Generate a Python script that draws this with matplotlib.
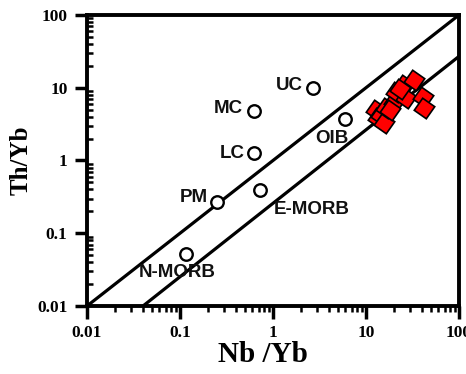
import matplotlib
matplotlib.use("Agg")
import matplotlib.pyplot as plt
from matplotlib.ticker import LogLocator, NullFormatter, FixedLocator, FixedFormatter
import numpy as np

# Reference compositions
ref_labels = ["UC", "MC", "LC", "PM", "E-MORB", "OIB", "N-MORB"]
ref_nb_yb = [2.7, 0.63, 0.62, 0.25, 0.72, 5.9, 0.117]
ref_th_yb = [9.9, 4.8, 1.27, 0.27, 0.39, 3.7, 0.052]

# Samples
sample_nb_yb = [12.7, 13.4, 14.4, 15.5, 16.3, 19.9, 20.9, 25.5, 26.8, 32.7, 40.9, 41.9, 23.0, 18.0]
sample_th_yb = [4.95, 3.84, 4.22, 3.28, 5.27, 6.37, 8.74, 10.9, 7.23, 12.8, 7.46, 5.27, 9.5, 5.0]

# Mantle array boundaries
upper_x = [0.01, 100]
upper_y = [0.01, 100]
lower_x = [0.04, 100]
lower_y = [0.01, 27]

tick_vals = [0.01, 0.1, 1, 10, 100]
tick_labels = ["0.01", "0.1", "1", "10", "100"]

fig = plt.figure(figsize=(4.66, 3.74), dpi=100)
ax = fig.add_axes([0.1867, 0.1818, 0.985 - 0.1867, 0.96 - 0.1818])
ax.set_xscale("log")
ax.set_yscale("log")
ax.set_xlim(0.01, 100)
ax.set_ylim(0.01, 100)

ax.plot(upper_x, upper_y, color="black", lw=2.3, solid_capstyle="butt", zorder=2)
ax.plot(lower_x, lower_y, color="black", lw=2.3, solid_capstyle="butt", zorder=2)

ax.plot(ref_nb_yb, ref_th_yb, ls="none", marker="o", ms=9, mfc="white",
        mec="black", mew=1.7, zorder=3)

ax.plot(sample_nb_yb, sample_th_yb, ls="none", marker=(4, 0, 10), ms=15,
        mfc="#ff0000", mec="black", mew=1.2, zorder=4)

offsets = {
    "UC": (-10, 3, "right"),
    "MC": (-11, 2, "right"),
    "LC": (-9, -1, "right"),
    "PM": (-9, 4, "right"),
    "E-MORB": (14, -19, "left"),
    "OIB": (-13, -19, "center"),
    "N-MORB": (-48, -19, "left"),
}
for lab, x, y in zip(ref_labels, ref_nb_yb, ref_th_yb):
    dx, dy, ha = offsets[lab]
    ax.annotate(lab, xy=(x, y), xytext=(dx * 0.72, dy * 0.72),
                textcoords="offset points", ha=ha, va="center",
                fontsize=13.5, fontweight="bold", family="Liberation Sans",
                color="#111111", zorder=5)

for side in ["left", "bottom", "right", "top"]:
    ax.spines[side].set_linewidth(2.8)

ax.xaxis.set_major_locator(FixedLocator(tick_vals))
ax.xaxis.set_major_formatter(FixedFormatter(tick_labels))
ax.yaxis.set_major_locator(FixedLocator(tick_vals))
ax.yaxis.set_major_formatter(FixedFormatter(tick_labels))
ax.xaxis.set_minor_locator(LogLocator(base=10, subs=np.arange(2, 10)))
ax.yaxis.set_minor_locator(LogLocator(base=10, subs=np.arange(2, 10)))
ax.xaxis.set_minor_formatter(NullFormatter())
ax.yaxis.set_minor_formatter(NullFormatter())

ax.tick_params(axis="both", which="major", direction="out", length=9, width=2.5,
               labelsize=12.5, pad=5)
ax.tick_params(axis="x", which="minor", direction="out", length=4, width=1.8)
ax.tick_params(axis="y", which="minor", direction="in", length=4, width=1.8)
ax.tick_params(top=False, right=False, which="both")

for lbl in ax.get_xticklabels() + ax.get_yticklabels():
    lbl.set_family("Liberation Serif")
    lbl.set_fontweight("bold")

ax.set_xlabel("Nb /Yb", family="Liberation Serif", fontweight="bold", fontsize=21, labelpad=0)
ax.xaxis.label.set_x(0.474)
ax.set_ylabel("Th/Yb", family="Liberation Serif", fontweight="bold", fontsize=18, labelpad=3)

fig.savefig("out.png", dpi=100)
